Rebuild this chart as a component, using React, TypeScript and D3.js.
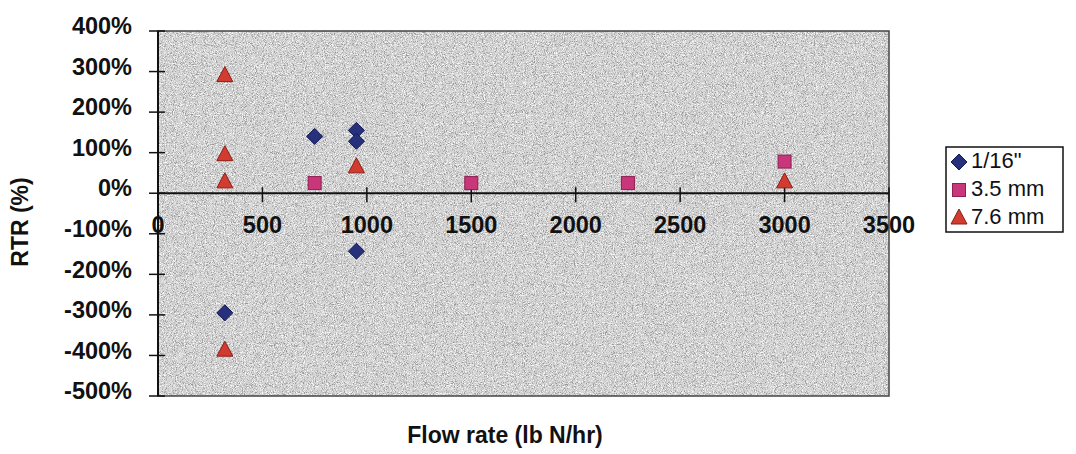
import React from "react";
import * as d3 from "d3";

const xTicks = [0, 500, 1000, 1500, 2000, 2500, 3000, 3500];
const yTicks = [4, 3, 2, 1, 0, -1, -2, -3, -4, -5];

const seriesNames = ['1/16"', "3.5 mm", "7.6 mm"];

const s116x = [320, 750, 950, 950, 950];
const s116y = [-2.95, 1.4, 1.55, 1.28, -1.43];

const s35x = [750, 1500, 2250, 3000];
const s35y = [0.25, 0.25, 0.25, 0.78];

const s76x = [320, 320, 320, 320, 950, 3000];
const s76y = [2.9, 0.95, 0.28, -3.87, 0.65, 0.28];

const W = 1076;
const H = 454;
const plot = { left: 158, right: 889, top: 31, bottom: 396 };

const x = d3.scaleLinear().domain([0, 3500]).range([plot.left, plot.right]);
const y = d3.scaleLinear().domain([-5, 4]).range([plot.bottom, plot.top]);

const font = "'Liberation Sans', Arial, sans-serif";
const colors = ["#27307a", "#c8377a", "#d23b2f"];
const strokes = ["#141a55", "#8e1f52", "#8a1f18"];

function Marker({ kind, cx, cy }: { kind: number; cx: number; cy: number }) {
  if (kind === 0) {
    const r = 8;
    return (
      <path
        d={`M${cx},${cy - r}L${cx + r},${cy}L${cx},${cy + r}L${cx - r},${cy}Z`}
        fill={colors[0]}
        stroke={strokes[0]}
        strokeWidth={1}
      />
    );
  }
  if (kind === 1) {
    const s = 13;
    return (
      <rect
        x={cx - s / 2}
        y={cy - s / 2}
        width={s}
        height={s}
        fill={colors[1]}
        stroke={strokes[1]}
        strokeWidth={1}
      />
    );
  }
  const h = 15;
  const w = 16;
  return (
    <path
      d={`M${cx},${cy - h * 0.6}L${cx + w / 2},${cy + h * 0.4}L${cx - w / 2},${cy + h * 0.4}Z`}
      fill={colors[2]}
      stroke={strokes[2]}
      strokeWidth={1}
    />
  );
}

export default function App() {
  const series = [
    { xs: s116x, ys: s116y },
    { xs: s35x, ys: s35y },
    { xs: s76x, ys: s76y },
  ];
  const y0 = y(0);
  const pct = (v: number) => `${Math.round(v * 100)}%`;
  const legend = { x: 946, y: 147, w: 117, h: 85 };
  const pw = plot.right - plot.left;
  const ph = plot.bottom - plot.top;
  return (
    <svg
      width={W}
      height={H}
      style={{ position: "absolute", left: 0, top: 0, background: "#fff" }}
    >
      <defs>
        <filter id="noiseDark" x="0" y="0" width="100%" height="100%" filterUnits="objectBoundingBox">
          <feTurbulence type="fractalNoise" baseFrequency="1.1" numOctaves={2} seed={3} />
          <feColorMatrix
            type="matrix"
            values="0 0 0 0 0.25  0 0 0 0 0.25  0 0 0 0 0.25  4 0 0 0 -2.0"
          />
        </filter>
        <filter id="noiseLight" x="0" y="0" width="100%" height="100%" filterUnits="objectBoundingBox">
          <feTurbulence type="fractalNoise" baseFrequency="0.9" numOctaves={2} seed={11} />
          <feColorMatrix
            type="matrix"
            values="0 0 0 0 1  0 0 0 0 1  0 0 0 0 1  4 0 0 0 -1.9"
          />
        </filter>
      </defs>
      <rect x={plot.left} y={plot.top} width={pw} height={ph} fill="#d2d2d2" />
      <rect x={plot.left} y={plot.top} width={pw} height={ph} fill="#000" filter="url(#noiseLight)" opacity={0.9} />
      <rect x={plot.left} y={plot.top} width={pw} height={ph} fill="#000" filter="url(#noiseDark)" opacity={0.8} />
      <rect x={plot.left} y={plot.top} width={pw} height={ph} fill="none" stroke="#444" strokeWidth={1.5} />
      {/* y axis */}
      <line x1={plot.left} x2={plot.left} y1={plot.top} y2={plot.bottom} stroke="#111" strokeWidth={2} />
      {yTicks.map((t) => (
        <g key={t}>
          <line x1={plot.left - 9} x2={plot.left + 7} y1={y(t)} y2={y(t)} stroke="#111" strokeWidth={1.5} />
          <text
            x={132}
            y={y(t) - 3}
            textAnchor="end"
            dominantBaseline="middle"
            fontFamily={font}
            fontWeight="bold"
            fontSize={23.5}
            fill="#111"
          >
            {pct(t)}
          </text>
        </g>
      ))}
      {/* x axis at 0 */}
      <line x1={plot.left} x2={plot.right} y1={y0} y2={y0} stroke="#111" strokeWidth={2} />
      {xTicks.map((t) => (
        <g key={t}>
          <line x1={x(t)} x2={x(t)} y1={y0 - 6} y2={y0 + 9} stroke="#111" strokeWidth={1.5} />
          <text
            x={x(t)}
            y={y0 + 40}
            textAnchor="middle"
            fontFamily={font}
            fontWeight="bold"
            fontSize={23.5}
            fill="#111"
          >
            {t}
          </text>
        </g>
      ))}
      {/* points */}
      {series.map((s, i) =>
        s.xs.map((xv, j) => <Marker key={`${i}-${j}`} kind={i} cx={x(xv)} cy={y(s.ys[j])} />)
      )}
      {/* axis titles */}
      <text
        x={505}
        y={443}
        textAnchor="middle"
        fontFamily={font}
        fontWeight="bold"
        fontSize={23}
        fill="#111"
      >
        Flow rate (lb N/hr)
      </text>
      <text
        transform={`translate(28,222) rotate(-90)`}
        textAnchor="middle"
        fontFamily={font}
        fontWeight="bold"
        fontSize={23}
        fill="#111"
      >
        RTR  (%)
      </text>
      {/* legend */}
      <rect x={legend.x} y={legend.y} width={legend.w} height={legend.h} fill="#fff" stroke="#111" strokeWidth={1.5} />
      {seriesNames.map((n, i) => (
        <g key={n}>
          <Marker kind={i} cx={legend.x + 13} cy={legend.y + 15 + i * 28} />
          <text
            x={legend.x + 25}
            y={legend.y + 15 + i * 28}
            dominantBaseline="middle"
            fontFamily={font}
            fontSize={22}
            fill="#111"
          >
            {n}
          </text>
        </g>
      ))}
    </svg>
  );
}
